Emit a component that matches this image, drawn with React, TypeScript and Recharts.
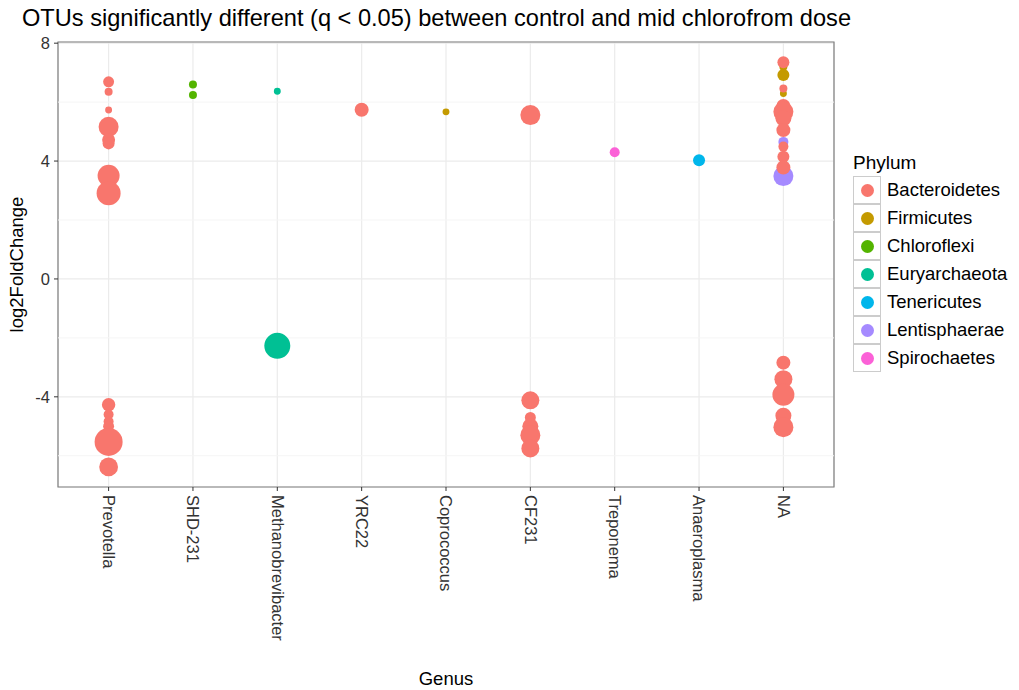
import React from 'react';
import {
  ScatterChart,
  Scatter,
  XAxis,
  YAxis,
  ZAxis,
  CartesianGrid,
  ReferenceLine,
  ReferenceArea,
  Legend,
} from 'recharts';

// OTUs with q < 0.05, control vs mid chloroform dose
// each row: [genus, log2FoldChange, baseMean-ish size value]

const GENERA = [
  'Prevotella',
  'SHD-231',
  'Methanobrevibacter',
  'YRC22',
  'Coprococcus',
  'CF231',
  'Treponema',
  'Anaeroplasma',
  'NA',
];

const PHYLA = [
  'Bacteroidetes',
  'Firmicutes',
  'Chloroflexi',
  'Euryarchaeota',
  'Tenericutes',
  'Lentisphaerae',
  'Spirochaetes',
];

const PHYLUM_COLORS = ['#F8766D', '#C49A00', '#53B400', '#00C094', '#00B6EB', '#A58AFF', '#FB61D7'];

const bacteroidetes = [
  ['Prevotella', 6.69, 30],
  ['Prevotella', 6.35, 16],
  ['Prevotella', 5.73, 12],
  ['Prevotella', 5.16, 100],
  ['Prevotella', 4.72, 42],
  ['Prevotella', 4.6, 36],
  ['Prevotella', 3.5, 121],
  ['Prevotella', 2.91, 144],
  ['Prevotella', -4.27, 45],
  ['Prevotella', -4.6, 25],
  ['Prevotella', -4.84, 25],
  ['Prevotella', -5.0, 30],
  ['Prevotella', -5.53, 196],
  ['Prevotella', -6.38, 88],
  ['YRC22', 5.74, 49],
  ['CF231', 5.56, 100],
  ['CF231', -4.12, 81],
  ['CF231', -4.7, 30],
  ['CF231', -5.0, 64],
  ['CF231', -5.3, 100],
  ['CF231', -5.75, 81],
  ['NA', 7.35, 36],
  ['NA', 6.46, 16],
  ['NA', 5.87, 49],
  ['NA', 5.67, 100],
  ['NA', 5.45, 64],
  ['NA', 5.05, 49],
  ['NA', 4.49, 25],
  ['NA', 4.15, 36],
  ['NA', 3.78, 49],
  ['NA', -2.84, 49],
  ['NA', -3.4, 81],
  ['NA', -3.93, 121],
  ['NA', -4.64, 64],
  ['NA', -5.03, 100],
];

const firmicutes = [
  ['Coprococcus', 5.67, 12],
  ['NA', 7.2, 16],
  ['NA', 6.92, 36],
  ['NA', 6.29, 12],
  ['NA', 4.0, 12],
];

const chloroflexi = [
  ['SHD-231', 6.6, 16],
  ['SHD-231', 6.24, 16],
];

const euryarchaeota = [
  ['Methanobrevibacter', 6.37, 12],
  ['Methanobrevibacter', -2.27, 169],
];

const tenericutes = [['Anaeroplasma', 4.03, 36]];

const lentisphaerae = [
  ['NA', 4.65, 25],
  ['NA', 3.49, 100],
];

const spirochaetes = [['Treponema', 4.3, 25]];

const SERIES = [
  bacteroidetes,
  firmicutes,
  chloroflexi,
  euryarchaeota,
  tenericutes,
  lentisphaerae,
  spirochaetes,
];

const Y_TICKS = [-4, 0, 4, 8];
const Y_MINOR = [-6, -2, 2, 6];
const Y_DOMAIN = [-7.06, 8.04];
const X_DOMAIN = [-0.6, GENERA.length - 0.4];

const FONT = '"Liberation Sans", Arial, Helvetica, sans-serif';

const toPoints = (rows: (string | number)[][]) =>
  rows.map(([genus, lfc, mean]) => ({
    genus,
    x: GENERA.indexOf(genus as string),
    log2FoldChange: lfc,
    mean,
  }));

function GenusTick(props: any) {
  const { x, y, payload } = props;
  return (
    <g transform={`translate(${x},${y})`}>
      <text
        transform="rotate(90)"
        textAnchor="start"
        dy="0.35em"
        fontSize={16.5}
        fontFamily={FONT}
        fill="#333333"
      >
        {GENERA[payload.value]}
      </text>
    </g>
  );
}

function PhylumLegend() {
  return (
    <div style={{ fontFamily: FONT, color: '#000' }}>
      <div style={{ fontSize: 19, height: 21, lineHeight: '21px', marginBottom: 3 }}>Phylum</div>
      {PHYLA.map((p, i) => (
        <div key={p} style={{ display: 'flex', alignItems: 'center', height: 28 }}>
          <div
            style={{
              width: 28,
              height: 28,
              boxSizing: 'border-box',
              border: '1.5px solid #CCCCCC',
              background: '#FFFFFF',
              display: 'flex',
              alignItems: 'center',
              justifyContent: 'center',
            }}
          >
            <div
              style={{ width: 13, height: 13, borderRadius: '50%', background: PHYLUM_COLORS[i] }}
            />
          </div>
          <span style={{ marginLeft: 6, fontSize: 18.5 }}>{p}</span>
        </div>
      ))}
    </div>
  );
}

// draw Bacteroidetes last so it sits on top, like the original
const DRAW_ORDER = [1, 2, 3, 4, 5, 6, 0];

export default function App() {
  return (
    <div style={{ position: 'absolute', left: 0, top: 0, width: 1019, height: 690, background: '#fff' }}>
      <ScatterChart
        width={1019}
        height={690}
        margin={{ top: 42, right: 185, bottom: 0, left: 0 }}
      >
        <CartesianGrid stroke="#EBEBEB" strokeWidth={1.2} />
        {Y_MINOR.map((v) => (
          <ReferenceLine key={v} y={v} stroke="#F5F5F5" strokeWidth={1} />
        ))}
        <XAxis
          type="number"
          dataKey="x"
          domain={X_DOMAIN}
          ticks={GENERA.map((_, i) => i)}
          allowDataOverflow
          interval={0}
          height={203}
          axisLine={false}
          tickSize={4}
          tickMargin={4}
          tickLine={{ stroke: '#333333' }}
          tick={<GenusTick />}
        />
        <YAxis
          type="number"
          dataKey="log2FoldChange"
          domain={Y_DOMAIN}
          ticks={Y_TICKS}
          allowDataOverflow
          width={58}
          axisLine={false}
          tickSize={4}
          tickMargin={4}
          tickLine={{ stroke: '#333333' }}
          tick={{ fontSize: 16.5, fontFamily: FONT, fill: '#333333' }}
        />
        <ZAxis type="number" dataKey="mean" domain={[0, 200]} range={[0, 200 * Math.PI]} />
        {DRAW_ORDER.map((i) => (
          <Scatter
            key={PHYLA[i]}
            name={PHYLA[i]}
            data={toPoints(SERIES[i])}
            fill={PHYLUM_COLORS[i]}
            shape="circle"
            isAnimationActive={false}
          />
        ))}
        <ReferenceArea
          x1={X_DOMAIN[0]}
          x2={X_DOMAIN[1]}
          y1={Y_DOMAIN[0]}
          y2={Y_DOMAIN[1]}
          fill="none"
          fillOpacity={0}
          stroke="#7F7F7F"
          strokeWidth={1.2}
        />
        <Legend
          layout="vertical"
          align="center"
          verticalAlign="middle"
          content={<PhylumLegend />}
          wrapperStyle={{ left: 853, top: 152, width: 166 }}
        />
      </ScatterChart>
      <svg
        width={1019}
        height={690}
        style={{ position: 'absolute', left: 0, top: 0, pointerEvents: 'none' }}
        fontFamily={FONT}
      >
        <text x={22} y={26} fontSize={23.6} fill="#000">
          OTUs significantly different (q &lt; 0.05) between control and mid chlorofrom dose
        </text>
        <text
          transform="translate(23,264.5) rotate(-90)"
          textAnchor="middle"
          fontSize={18.5}
          fill="#000"
        >
          log2FoldChange
        </text>
        <text x={446} y={685} textAnchor="middle" fontSize={18.5} fill="#000">
          Genus
        </text>
      </svg>
    </div>
  );
}
